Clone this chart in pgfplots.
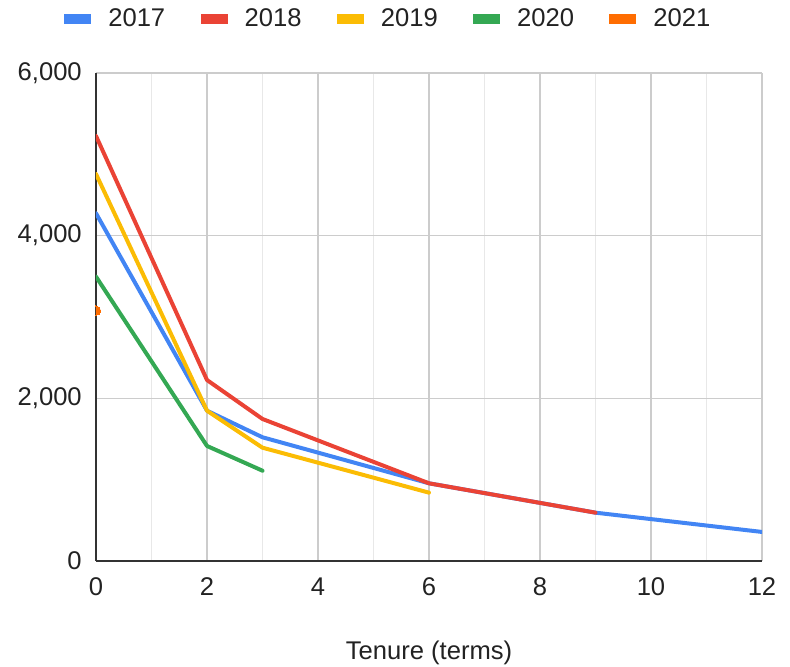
\documentclass[border=0pt]{standalone}
\usepackage{fontspec}
\setmainfont{Liberation Sans}
\usepackage{pgfplots}
\pgfplotsset{compat=1.18}

\definecolor{c2017}{HTML}{4285F4}
\definecolor{c2018}{HTML}{EA4335}
\definecolor{c2019}{HTML}{FBBC04}
\definecolor{c2020}{HTML}{34A853}
\definecolor{c2021}{HTML}{FF6D01}
\definecolor{txt}{HTML}{222222}

\begin{document}
\begin{tikzpicture}
\begin{axis}[name=ax,
    scale only axis,
    width=499.5pt, height=366pt,
    xmin=0, xmax=12, ymin=0, ymax=6000,
    xtick={0,2,...,12}, minor xtick={1,3,...,11},
    ytick={0,2000,4000,6000},
    grid=both,
    major grid style={color=black!20, line width=1pt},
    minor grid style={color=black!9, line width=1pt},
    axis lines=left,
    axis line style={color=black!80, line width=1.5pt, -},
    major tick length=0pt, minor tick length=0pt,
    tick style={draw=none},
    font=\fontsize{19.2}{23}\selectfont,
    /pgf/number format/assume math mode=true,
    /pgf/number format/1000 sep={,},
    scaled y ticks=false,
    yticklabel style={inner sep=0pt, anchor=east, xshift=-10.5pt, text=txt},
    xticklabel style={inner sep=0pt, anchor=north, yshift=-12.5pt, text=txt},
    xlabel={Tenure (terms)},
    xlabel style={at={(axis description cs:0.5,0)}, anchor=center, yshift=-69pt, text=txt},
    clip marker paths=true,
    legend columns=-1,
    legend image code/.code={\fill[#1, draw=none] (0pt,-3.75pt) rectangle (20.25pt,3.75pt);},
    legend style={at={(-0.048,1.1107)}, anchor=west, draw=none, fill=none,
        inner sep=0pt, text=txt,
        nodes={inner sep=0pt, anchor=west},
        /tikz/every odd column/.append style={column sep=12.75pt},
        /tikz/every even column/.append style={column sep=26.5pt}},
    every axis plot/.append style={line width=3pt, line join=round, line cap=round},
]
\addplot[color=c2017, mark=none] coordinates {(0,4275) (2,1848) (3,1521) (6,955) (9,594) (12,357)};
\addplot[color=c2018, mark=none] coordinates {(0,5226) (2,2225) (3,1746) (6,955) (9,594)};
\addplot[color=c2019, mark=none] coordinates {(0,4758) (2,1848) (3,1393) (6,840)};
\addplot[color=c2020, mark=none] coordinates {(0,3496) (2,1414) (3,1110)};
\addplot[color=c2021, only marks, mark=*, mark size=3.5pt, line width=0pt] coordinates {(0,3078)};
\legend{2017,2018,2019,2020,2021}
\end{axis}
\pgfresetboundingbox
\path[use as bounding box] ([shift={(-72pt,-79.5pt)}]ax.south west) rectangle ([shift={(21pt,54.75pt)}]ax.north east);
\end{tikzpicture}
\end{document}
